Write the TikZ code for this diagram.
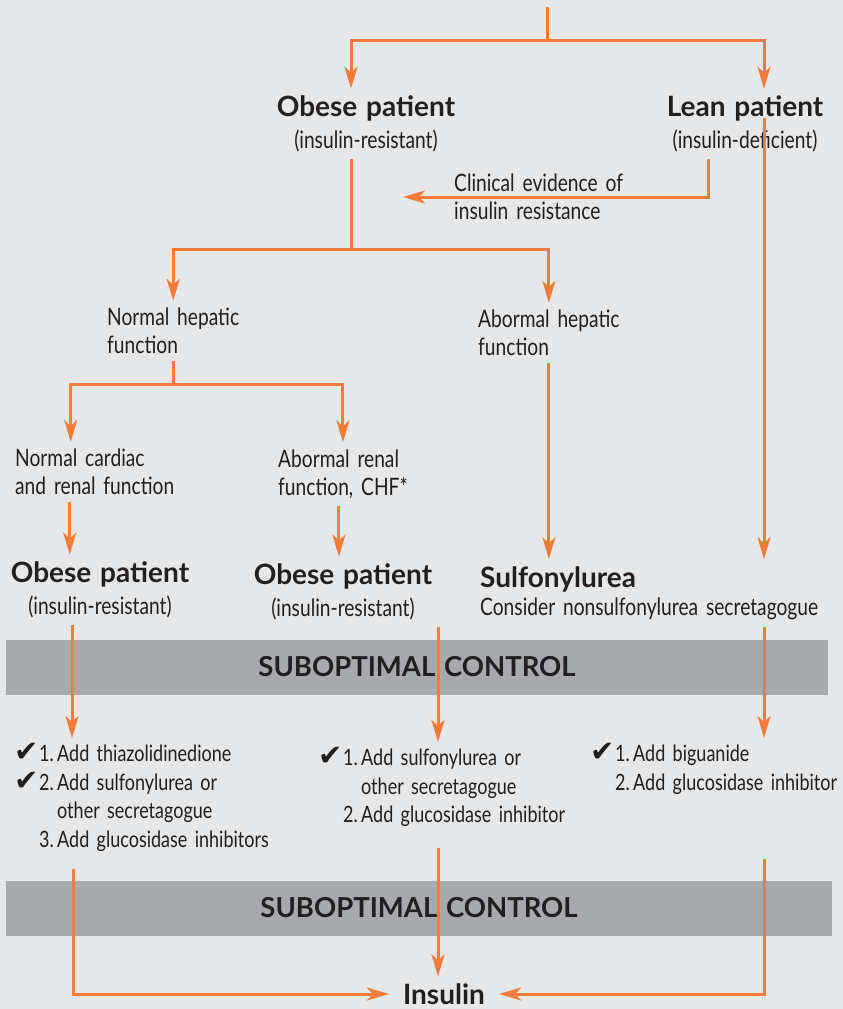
\documentclass[tikz,border=0pt]{standalone}
\usepackage{fontspec}
\setmainfont{Lato}[FakeStretch=0.8,WordSpace=1.6]
\newfontfamily\headfont{Lato}[WordSpace=1.3]
\newfontfamily\chkfont{DejaVu Sans}
\usepackage{tikz}
\usetikzlibrary{arrows.meta,positioning}

\definecolor{flow}{HTML}{F47B3A}
\definecolor{paper}{HTML}{E6E7E8}
\definecolor{barfill}{HTML}{A7A9AC}
\definecolor{ink}{HTML}{231F20}

\newcommand{\chk}{\makebox[25pt][l]{\raisebox{0pt}[0pt][0pt]{\chkfont\fontsize{29}{28}\selectfont ✔}}}
\newcommand{\itemno}[1]{\makebox[18pt][l]{#1}}
\newcommand{\headtext}[1]{{\headfont\bfseries\fontsize{28}{30}\selectfont #1}}

\tikzset{
  txt/.style={text=ink, inner xsep=2pt, inner ysep=7pt, font=\fontsize{24}{28}\selectfont},
  stack/.style={txt, align=center, font=\fontsize{24}{32}\selectfont},
  notes/.style={txt, align=left},
  steps/.style={txt, align=left, font=\fontsize{22.5}{28.5}\selectfont},
  bar/.style={fill=barfill, text=ink, minimum height=55pt, inner sep=0pt,
    font=\headfont\bfseries\fontsize{27.5}{30}\selectfont},
  link/.style={draw=flow, line width=3pt},
}

\begin{document}
\begin{tikzpicture}[x=1pt,y=-1pt,>={Stealth[length=22pt,width=13pt,inset=6pt]}]
\fill[paper] (0,0) rectangle (843,1009);
\path[use as bounding box] (0,0) rectangle (843,1009);

% first split
\node[stack] (obese) at (366,124) {\headtext{Obese patient}\\(insulin-resistant)};
\node[stack] (lean) at (745,124) {\headtext{Lean patient}\\(insulin-deficient)};
\node[notes, anchor=west] (clinical) at (452,197) {Clinical evidence of\\insulin resistance};

% hepatic function
\node[notes, anchor=west] (nhep) at (105,331) {Normal hepatic\\function};
\node[notes, anchor=west] (ahep) at (476,333) {Abormal hepatic\\function};

% cardiac / renal function
\node[notes, anchor=west] (ncard) at (13,472) {Normal cardiac\\and renal function};
\node[notes, anchor=west] (arenal) at (276,474) {Abormal renal\\function, CHF*};

\node[stack] (obeseA) at (100,590) {\headtext{Obese patient}\\(insulin-resistant)};
\node[stack] (obeseB) at (343,592) {\headtext{Obese patient}\\(insulin-resistant)};
\node[notes, anchor=west] (sulfo) at (478,593) {\headtext{Sulfonylurea}\\Consider nonsulfonylurea secretagogue};

\node[bar, minimum width=822pt] (ctrl1) at (417,667) {SUBOPTIMAL CONTROL};

% add-on steps
\node[steps, anchor=north west] (list1) at (12,738) {\chk\itemno{1.}Add thiazolidinedione\\
  \chk\itemno{2.}Add sulfonylurea or\\
  \hspace*{43pt}other secretagogue\\
  \hspace*{25pt}\itemno{3.}Add glucosidase inhibitors};
\node[steps, anchor=north west] (list2) at (316,742) {\chk\itemno{1.}Add sulfonylurea or\\
  \hspace*{43pt}other secretagogue\\
  \hspace*{25pt}\itemno{2.}Add glucosidase inhibitor};
\node[steps, anchor=north west] (list3) at (588,738) {\chk\itemno{1.}Add biguanide\\
  \hspace*{25pt}\itemno{2.}Add glucosidase inhibitor};

\node[bar, minimum width=826pt] (ctrl2) at (419,908) {SUBOPTIMAL CONTROL};

\node[txt, inner xsep=14pt, font=\headfont\bfseries\fontsize{28}{30}\selectfont] (insulin) at (444,994) {Insulin};

% connectors
\coordinate (root) at (547,7);
\coordinate (fork1) at (547,40);
\coordinate (rail) at ([xshift=19pt]lean.center);
\draw[link] (root) -- (fork1);
\draw[link,->] (fork1) -| ([xshift=-15pt]obese.north);
\draw[link,->] (fork1) -| ([xshift=19pt]lean.north);
\draw[link,->] ([yshift=6pt]rail) -- (rail |- sulfo.north);
\draw[link,->] ([xshift=-37pt]lean.south) |- ([xshift=-49pt]clinical.west);

\draw[link] ([xshift=-15pt]obese.south) -- ++(0,90) coordinate (fork2);
\draw[link,->] (fork2) -| (nhep.north);
\draw[link,->] (fork2) -| (ahep.north);

\draw[link] (nhep.south) -- ++(0,23) coordinate (fork3);
\draw[link,->] (fork3) -| ([xshift=-24pt]ncard.north);
\draw[link,->] (fork3) -| (arenal.north);

\draw[link,->] ([xshift=-25pt]ncard.south) -- ([xshift=-25pt]ncard.south |- obeseA.north);
\draw[link,->] ([xshift=-4pt]arenal.south) -- ([xshift=-4pt]arenal.south |- obeseB.north);
\draw[link,->] (ahep.south) -- (ahep.south |- sulfo.north);

\draw[link,->] ([xshift=-28pt]obeseA.south) -- ([xshift=-28pt]obeseA.south |- list1.north);
\draw[link,->] ([xshift=95pt]obeseB.south) -- ([xshift=95pt]obeseB.south |- list2.north);
\draw[link,->] (sulfo.south -| rail) -- (list3.north -| rail);

\draw[link,->] ([xshift=61pt,yshift=-10pt]list1.south west) |- (insulin.west);
\draw[link,->] ([xshift=122pt,yshift=-14pt]list2.south west) -- ([xshift=122pt]list2.south west |- insulin.north);
\draw[link,->] ([yshift=-57pt]list3.south -| rail) |- (insulin.east);
\end{tikzpicture}
\end{document}
